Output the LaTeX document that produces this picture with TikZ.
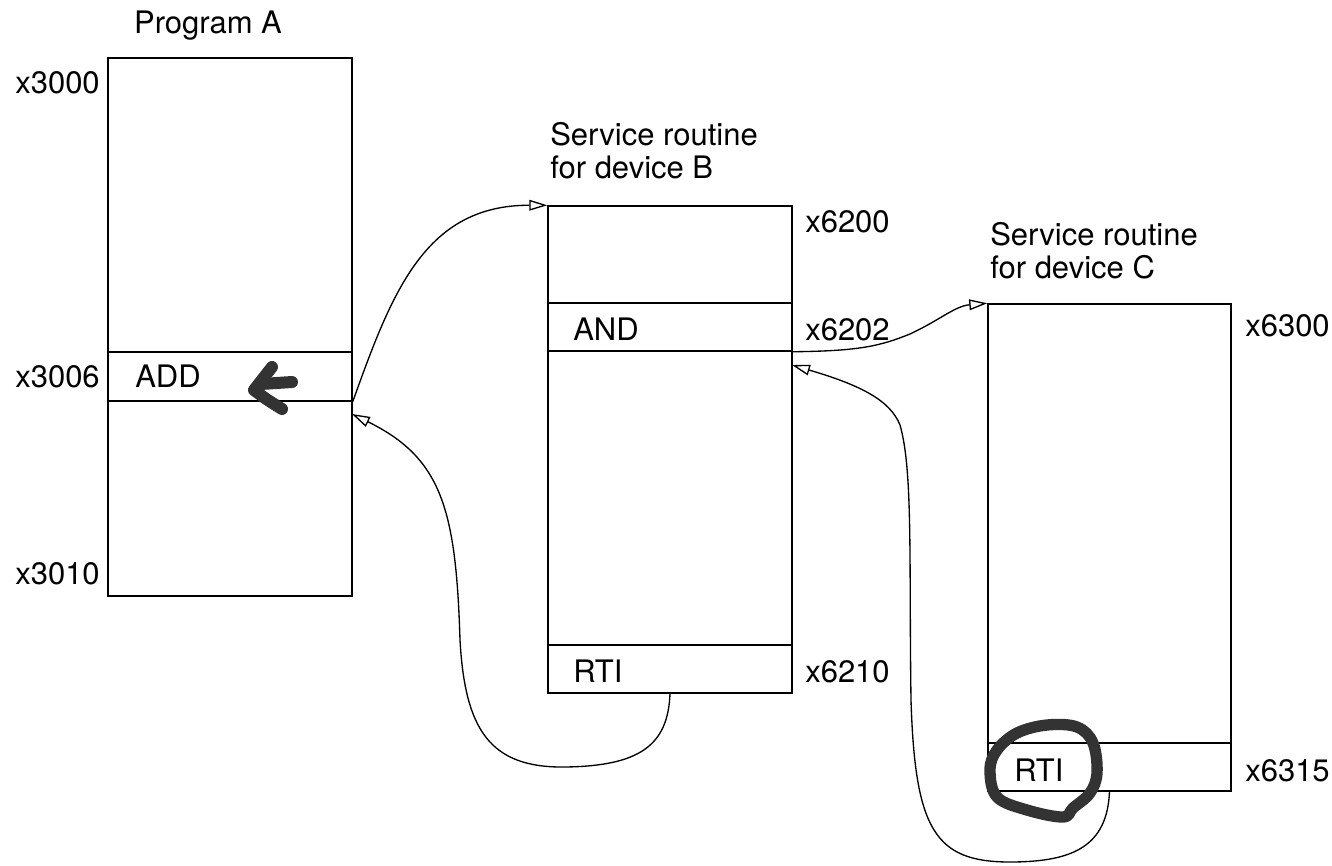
\documentclass[tikz,border=0pt]{standalone}
\usepackage{fontspec}
\setmainfont{TeX Gyre Heros}
\usetikzlibrary{arrows.meta,fit}
\begin{document}
\begin{tikzpicture}[x=0.75pt,y=-0.75pt,
  lbl/.style={font=\fontsize{23.25pt}{26pt}\selectfont, inner sep=0pt},
  box/.style={draw, inner sep=0pt, line width=1.1pt},
  link/.style={line width=1pt, -{Triangle[length=13.5pt,width=8pt,fill=white,line width=1pt]}},
  penmark/.style={draw=pen, line width=9pt, line cap=round, line join=round}
]
\definecolor{pen}{HTML}{333333}
\useasboundingbox (0,0) rectangle (1332,865);
\fill[white] (0,0) rectangle (1332,865);

% Program A
\node[box, fit={(108,58)(352,596)}] (A) {};
\node[box, fit={(108,352)(352,401)}] (Aadd) {};
\node[lbl, anchor=base] (tA) at (208,33) {Program A};
\node[lbl, anchor=base east] (a1) at (100,93) {x3000};
\node[lbl, anchor=base east] (a2) at (100,387) {x3006};
\node[lbl, anchor=base east] (a3) at (100,584) {x3010};
\node[lbl, anchor=base west] (add) at (135,387) {ADD};

% Service routine B
\node[box, fit={(548,206)(792,693)}] (B) {};
\node[box, fit={(548,303)(792,351)}] (Band) {};
\node[box, fit={(548,645)(792,693)}] (Brti) {};
\node[lbl, anchor=base west] (tB1) at (550,145) {Service routine};
\node[lbl, anchor=base west] (tB2) at (550,178) {for device B};
\node[lbl, anchor=base west] (b1) at (805,232) {x6200};
\node[lbl, anchor=base west] (b2) at (805,340) {x6202};
\node[lbl, anchor=base west] (b3) at (805,682) {x6210};
\node[lbl, anchor=base west] (and) at (573,340) {AND};
\node[lbl, anchor=base west] (rtiB) at (573,682) {RTI};

% Service routine C
\node[box, fit={(988,304)(1231,791)}] (C) {};
\node[box, fit={(988,743)(1231,791)}] (Crti) {};
\node[lbl, anchor=base west] (tC1) at (990,245) {Service routine};
\node[lbl, anchor=base west] (tC2) at (990,278) {for device C};
\node[lbl, anchor=base west] (c1) at (1245,336) {x6300};
\node[lbl, anchor=base west] (c2) at (1245,781) {x6315};
\node[lbl, anchor=base west] (rtiC) at (1014,781) {RTI};

\coordinate (Ain) at (352,414);
\coordinate (Bin) at (792,365);

% connectors
\draw[link] (Aadd.south east) .. controls (392,292) and (425,205) .. (B.north west);
\draw[link] (Brti.south) .. controls (668,745) and (640,766) .. (565,767)
  .. controls (490,768) and (465,730) .. (460,640)
  .. controls (456,510) and (442,458) .. (Ain);
\draw[link] (Band.south east) .. controls (860,351) and (880,346) .. (910,334)
  .. controls (940,320) and (955,306) .. (C.north west);
\draw[link] (Crti.south) .. controls (1107,845) and (1075,862) .. (1010,862)
  .. controls (935,862) and (915,830) .. (911,700)
  .. controls (909,560) and (913,470) .. (900,425)
  .. controls (890,400) and (860,385) .. (Bin);

% hand-drawn marks
\draw[penmark] (272,367) .. controls (263,379) .. (254,390) .. controls (266,399) .. (282,409);
\draw[penmark] (261,384) -- (292,382);
\draw[penmark, line width=8.5pt] plot[smooth cycle, tension=0.6] coordinates {(1063,817) (1027,810) (997,797) (990,770) (997,750) (1017,733) (1047,725) (1077,727) (1093,743) (1097,773) (1090,793) (1073,808)};
\end{tikzpicture}
\end{document}
